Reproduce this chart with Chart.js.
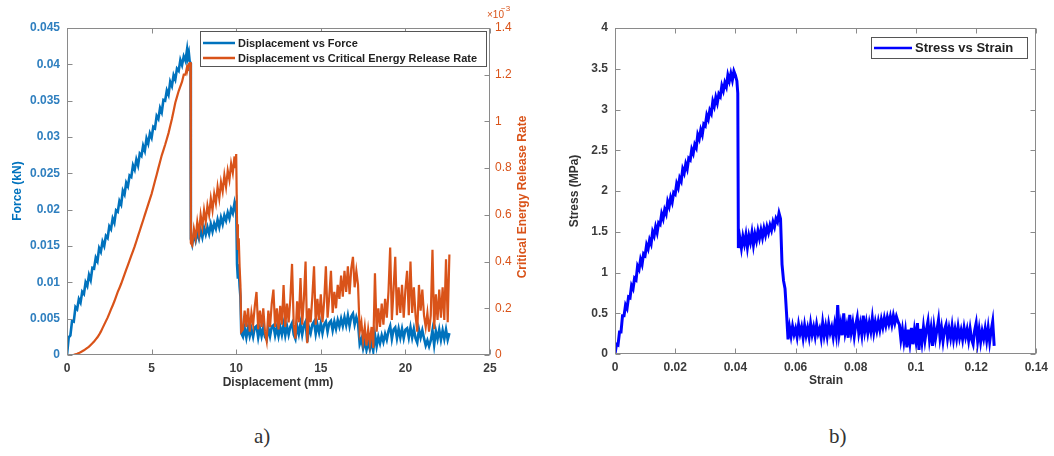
<!DOCTYPE html>
<html>
<head>
<meta charset="utf-8">
<script src="https://cdn.jsdelivr.net/npm/chart.js@4.4.1/dist/chart.umd.min.js"></script>
<style>
  html, body { margin: 0; padding: 0; background: #fff; }
  body { width: 1054px; height: 456px; position: relative; overflow: hidden; }
  .wrap { position: absolute; top: 0; height: 405px; }
  #wrapA { left: 0; width: 540px; }
  #wrapB { left: 540px; width: 514px; }
  .cap { position: absolute; font-family: "Liberation Serif", "DejaVu Serif", serif; font-size: 21px; color: #333; }
</style>
</head>
<body>
<div class="wrap" id="wrapA"><canvas id="chartA"></canvas></div>
<div class="wrap" id="wrapB"><canvas id="chartB"></canvas></div>
<div class="cap" style="left:254px; top:424px;">a)</div>
<div class="cap" style="left:829px; top:424px;">b)</div>
<script>
// ---- chart a) displacement (mm), force (kN), critical energy release rate (x10^-3)
const disp = [
  // loading up to first peak
  0, 0.1, 0.2, 0.3, 0.4, 0.5, 0.6, 0.7, 0.8, 0.9,
  1.0, 1.1, 1.2, 1.3, 1.4, 1.5, 1.6, 1.7, 1.8, 1.9,
  2.0, 2.1, 2.2, 2.3, 2.4, 2.5, 2.6, 2.7, 2.8, 2.9,
  3.0, 3.1, 3.2, 3.3, 3.4, 3.5, 3.6, 3.7, 3.8, 3.9,
  4.0, 4.1, 4.2, 4.3, 4.4, 4.5, 4.6, 4.7, 4.8, 4.9,
  5.0, 5.1, 5.2, 5.3, 5.4, 5.5, 5.6, 5.7, 5.8, 5.9,
  6.0, 6.1, 6.2, 6.3, 6.4, 6.5, 6.6, 6.7, 6.8, 6.9,
  7.0, 7.1, 7.15, 7.2, 7.25, 7.3,
  // second branch
  7.32, 7.4, 7.5, 7.6, 7.7, 7.8, 7.9, 8.0, 8.1, 8.2,
  8.3, 8.4, 8.5, 8.6, 8.7, 8.8, 8.9, 9.0, 9.1, 9.2,
  9.3, 9.4, 9.5, 9.6, 9.7, 9.8, 9.9, 9.95, 10.0,
  // drop
  10.05, 10.1, 10.15, 10.2, 10.25, 10.3,
  // residual
  10.4, 10.5, 10.6, 10.7, 10.8, 10.9, 11.0, 11.1, 11.2, 11.3,
  11.4, 11.5, 11.6, 11.7, 11.8, 11.9, 12.0, 12.1, 12.2, 12.3,
  12.4, 12.5, 12.6, 12.7, 12.8, 12.9, 13.0, 13.1, 13.2, 13.3,
  13.4, 13.5, 13.6, 13.7, 13.8, 13.9, 14.0, 14.1, 14.2, 14.3,
  14.4, 14.5, 14.6, 14.7, 14.8, 14.9, 15.0, 15.1, 15.2, 15.3,
  15.4, 15.5, 15.6, 15.7, 15.8, 15.9, 16.0, 16.1, 16.2, 16.3,
  16.4, 16.5, 16.6, 16.7, 16.8, 16.9, 17.0, 17.1, 17.2, 17.3,
  17.4, 17.5, 17.6, 17.7, 17.8, 17.9, 18.0, 18.1, 18.2, 18.3,
  18.4, 18.5, 18.6, 18.7, 18.8, 18.9, 19.0, 19.1, 19.2, 19.3,
  19.4, 19.5, 19.6, 19.7, 19.8, 19.9, 20.0, 20.1, 20.2, 20.3,
  20.4, 20.5, 20.6, 20.7, 20.8, 20.9, 21.0, 21.1, 21.2, 21.3,
  21.4, 21.5, 21.6, 21.7, 21.8, 21.9, 22.0, 22.1, 22.2, 22.3,
  22.4, 22.5, 22.6
];
const force = [
  0, 0.0024, 0.0027, 0.0047, 0.0046, 0.0066, 0.0063, 0.0077, 0.0072, 0.0087,
  0.0084, 0.01, 0.0095, 0.011, 0.0103, 0.012, 0.0119, 0.0134, 0.0129, 0.0147,
  0.0142, 0.0156, 0.015, 0.0164, 0.0161, 0.0177, 0.0173, 0.0188, 0.0182, 0.0199,
  0.0197, 0.0212, 0.0207, 0.0226, 0.0221, 0.0237, 0.0232, 0.0247, 0.0245, 0.0261,
  0.0255, 0.0269, 0.0261, 0.0277, 0.0274, 0.0288, 0.0281, 0.0298, 0.0291, 0.0305,
  0.0299, 0.0314, 0.0312, 0.0329, 0.0325, 0.034, 0.0334, 0.0351, 0.035, 0.0364,
  0.0358, 0.0376, 0.037, 0.0385, 0.0379, 0.0394, 0.0391, 0.0406, 0.0399, 0.0411,
  0.0405, 0.0421, 0.0411, 0.0416, 0.0404, 0.0402,
  0.016, 0.0152, 0.0166, 0.0157, 0.0169, 0.016, 0.0172, 0.0162, 0.0175, 0.0166,
  0.0176, 0.0167, 0.018, 0.017, 0.0181, 0.0174, 0.0186, 0.0176, 0.0189, 0.018,
  0.0192, 0.0185, 0.0196, 0.0188, 0.0201, 0.0195, 0.0209, 0.0202, 0.0207,
  0.0125, 0.0105, 0.012, 0.0095, 0.008, 0.003,
  0.0025, 0.0037, 0.0024, 0.0038, 0.0026, 0.0036, 0.0025, 0.0038, 0.004, 0.0024,
  0.0037, 0.0026, 0.0038, 0.0025, 0.0021, 0.0037, 0.0026, 0.0039, 0.0041, 0.0027,
  0.0038, 0.0026, 0.0039, 0.0028, 0.0042, 0.0027, 0.004, 0.0028, 0.0039, 0.0044,
  0.0028, 0.0022, 0.004, 0.0029, 0.0043, 0.0028, 0.0041, 0.0046, 0.0018, 0.0038,
  0.003, 0.0042, 0.0046, 0.0029, 0.0042, 0.0031, 0.0044, 0.003, 0.0042, 0.0046,
  0.0032, 0.0044, 0.0047, 0.0034, 0.0046, 0.0036, 0.0048, 0.0039, 0.005, 0.004,
  0.0052, 0.0041, 0.0054, 0.004, 0.0053, 0.0057, 0.0042, 0.0052, 0.0044, 0.0015,
  0.0022, 0.0009, 0.0019, 0.0007, 0.0018, 0.0008, 0.0019, 0.0006, 0.0028, 0.0012,
  0.0025, 0.0016, 0.0027, 0.0018, 0.0029, 0.0021, 0.0033, 0.004, 0.0022, 0.0035,
  0.0038, 0.0023, 0.0036, 0.0024, 0.0036, 0.0023, 0.0035, 0.0037, 0.0024, 0.0038,
  0.0024, 0.0036, 0.0023, 0.0017, 0.0035, 0.0024, 0.0034, 0.0023, 0.0013, 0.002,
  0.0012, 0.002, 0.0034, 0.0014, 0.0033, 0.0022, 0.0035, 0.0021, 0.0034, 0.0022,
  0.0035, 0.0021, 0.003
];
const gRate = [
  0, 0, 0, 0, 0.001, 0.003, 0.005, 0.008, 0.012, 0.016,
  0.02, 0.025, 0.03, 0.036, 0.043, 0.05, 0.058, 0.067, 0.076, 0.087,
  0.1, 0.115, 0.13, 0.145, 0.16, 0.177, 0.195, 0.212, 0.23, 0.25,
  0.27, 0.287, 0.305, 0.325, 0.345, 0.365, 0.385, 0.405, 0.425, 0.445,
  0.465, 0.487, 0.51, 0.532, 0.555, 0.577, 0.6, 0.622, 0.645, 0.667,
  0.69, 0.717, 0.745, 0.772, 0.8, 0.827, 0.855, 0.877, 0.9, 0.925,
  0.95, 0.98, 1.01, 1.045, 1.08, 1.105, 1.13, 1.15, 1.17, 1.2,
  1.2, 1.235, 1.23, 1.245, 1.25, 1.25,
  0.48, 0.47, 0.54, 0.5, 0.57, 0.52, 0.6, 0.55, 0.62, 0.57,
  0.64, 0.6, 0.67, 0.62, 0.69, 0.65, 0.72, 0.67, 0.74, 0.7,
  0.77, 0.72, 0.79, 0.75, 0.82, 0.78, 0.85, 0.8, 0.86,
  0.56, 0.45, 0.5, 0.38, 0.3, 0.1,
  0.11, 0.19, 0.12, 0.2, 0.1, 0.18, 0.13, 0.21, 0.27, 0.11,
  0.19, 0.12, 0.2, 0.1, 0.06, 0.19, 0.12, 0.22, 0.28, 0.12,
  0.2, 0.11, 0.21, 0.13, 0.3, 0.12, 0.22, 0.14, 0.24, 0.39,
  0.13, 0.07, 0.23, 0.14, 0.33, 0.13, 0.24, 0.4, 0.05, 0.2,
  0.14, 0.25, 0.38, 0.13, 0.24, 0.15, 0.26, 0.14, 0.23, 0.38,
  0.16, 0.25, 0.36, 0.18, 0.27, 0.2, 0.3, 0.24, 0.34, 0.25,
  0.36, 0.27, 0.38, 0.26, 0.37, 0.42, 0.29, 0.36, 0.3, 0.1,
  0.14, 0.06, 0.12, 0.04, 0.11, 0.05, 0.12, 0.03, 0.35, 0.1,
  0.2, 0.12, 0.22, 0.13, 0.24, 0.16, 0.27, 0.46, 0.15, 0.28,
  0.42, 0.17, 0.29, 0.18, 0.3, 0.16, 0.28, 0.36, 0.17, 0.4,
  0.18, 0.29, 0.17, 0.1, 0.3, 0.19, 0.28, 0.17, 0.12, 0.18,
  0.1, 0.17, 0.45, 0.11, 0.26, 0.15, 0.28, 0.16, 0.29, 0.15,
  0.41, 0.14, 0.43
];
const dispTicks = [0, 5, 10, 15, 20, 25];
const forceTicks = [0, 0.005, 0.01, 0.015, 0.02, 0.025, 0.03, 0.035, 0.04, 0.045];
const gRateTicks = [0, 0.2, 0.4, 0.6, 0.8, 1, 1.2, 1.4];

// ---- chart b) stress (MPa) vs strain
const strain = [
  0, 0.0005, 0.001, 0.0015, 0.002, 0.0025, 0.003, 0.0035, 0.004, 0.0045,
  0.005, 0.0055, 0.006, 0.0065, 0.007, 0.0075, 0.008, 0.0085, 0.009, 0.0095,
  0.01, 0.0105, 0.011, 0.0115, 0.012, 0.0125, 0.013, 0.0135, 0.014, 0.0145,
  0.015, 0.0155, 0.016, 0.0165, 0.017, 0.0175, 0.018, 0.0185, 0.019, 0.0195,
  0.02, 0.0205, 0.021, 0.0215, 0.022, 0.0225, 0.023, 0.0235, 0.024, 0.0245,
  0.025, 0.0255, 0.026, 0.0265, 0.027, 0.0275, 0.028, 0.0285, 0.029, 0.0295,
  0.03, 0.0305, 0.031, 0.0315, 0.032, 0.0325, 0.033, 0.0335, 0.034, 0.0345,
  0.035, 0.0355, 0.036, 0.0365, 0.037, 0.0375, 0.038, 0.0385, 0.039,
  0.0395, 0.04, 0.0405, 0.0408, 0.041,
  0.0415, 0.042, 0.0425, 0.043, 0.0435, 0.044, 0.0445, 0.045, 0.0455, 0.046,
  0.0465, 0.047, 0.0475, 0.048, 0.0485, 0.049, 0.0495, 0.05, 0.0505, 0.051,
  0.0515, 0.052, 0.0525, 0.053, 0.0535, 0.054, 0.0545, 0.055,
  0.0555, 0.056, 0.0565, 0.057, 0.0575,
  0.058, 0.0585, 0.059, 0.0595, 0.06, 0.0605, 0.061, 0.0615, 0.062, 0.0625,
  0.063, 0.0635, 0.064, 0.0645, 0.065, 0.0655, 0.066, 0.0665, 0.067, 0.0675,
  0.068, 0.0685, 0.069, 0.0695, 0.07, 0.0705, 0.071, 0.0715, 0.072, 0.0725,
  0.073, 0.0735, 0.074, 0.0745, 0.075, 0.0755, 0.076, 0.0765, 0.077, 0.0775,
  0.078, 0.0785, 0.079, 0.0795, 0.08, 0.0805, 0.081, 0.0815, 0.082, 0.0825,
  0.083, 0.0835, 0.084, 0.0845, 0.085, 0.0855, 0.086, 0.0865, 0.087, 0.0875,
  0.088, 0.0885, 0.089, 0.0895, 0.09, 0.0905, 0.091, 0.0915, 0.092, 0.0925,
  0.093, 0.0935, 0.094, 0.0945, 0.095, 0.0955, 0.096, 0.0965, 0.097, 0.0975,
  0.098, 0.0985, 0.099, 0.0995, 0.1, 0.1005, 0.101, 0.1015, 0.102, 0.1025,
  0.103, 0.1035, 0.104, 0.1045, 0.105, 0.1055, 0.106, 0.1065, 0.107, 0.1075,
  0.108, 0.1085, 0.109, 0.1095, 0.11, 0.1105, 0.111, 0.1115, 0.112, 0.1125,
  0.113, 0.1135, 0.114, 0.1145, 0.115, 0.1155, 0.116, 0.1165, 0.117, 0.1175,
  0.118, 0.1185, 0.119, 0.1195, 0.12, 0.1205, 0.121, 0.1215, 0.122, 0.1225,
  0.123, 0.1235, 0.124, 0.1245, 0.125, 0.1255, 0.126
];
const stress = [
  0, 0.12, 0.11, 0.27, 0.27, 0.47, 0.47, 0.6, 0.56, 0.7,
  0.69, 0.84, 0.8, 0.93, 0.91, 1.08, 1.04, 1.16, 1.1, 1.23,
  1.21, 1.34, 1.29, 1.4, 1.35, 1.5, 1.45, 1.56, 1.49, 1.61,
  1.59, 1.72, 1.66, 1.77, 1.72, 1.87, 1.81, 1.92, 1.86, 1.98,
  1.96, 2.09, 2.04, 2.16, 2.12, 2.27, 2.22, 2.33, 2.27, 2.4,
  2.38, 2.51, 2.46, 2.57, 2.53, 2.69, 2.64, 2.75, 2.69, 2.82,
  2.8, 2.93, 2.88, 2.99, 2.95, 3.1, 3.04, 3.15, 3.08, 3.19,
  3.16, 3.29, 3.23, 3.33, 3.28, 3.42, 3.35, 3.44, 3.36,
  3.47, 3.42, 3.35, 3.2, 1.3,
  1.42, 1.3, 1.44, 1.35, 1.46, 1.31, 1.45, 1.37, 1.49, 1.34,
  1.47, 1.39, 1.51, 1.42, 1.52, 1.43, 1.54, 1.46, 1.56, 1.49,
  1.58, 1.52, 1.62, 1.56, 1.66, 1.62, 1.73, 1.66,
  1.1, 0.9, 0.8, 0.5, 0.18,
  0.33, 0.22, 0.34, 0.24, 0.31, 0.21, 0.36, 0.25, 0.33, 0.2,
  0.35, 0.23, 0.32, 0.21, 0.37, 0.24, 0.33, 0.22, 0.36, 0.25,
  0.31, 0.2, 0.38, 0.23, 0.34, 0.22, 0.37, 0.26, 0.33, 0.21,
  0.36, 0.24, 0.6, 0.25, 0.37, 0.23, 0.5, 0.26, 0.35, 0.2,
  0.48, 0.27, 0.38, 0.22, 0.36, 0.45, 0.26, 0.37, 0.24, 0.47,
  0.28, 0.39, 0.26, 0.38, 0.28, 0.44, 0.27, 0.39, 0.29, 0.4,
  0.3, 0.42, 0.33, 0.44, 0.35, 0.45, 0.37, 0.46, 0.36, 0.47,
  0.38, 0.46, 0.4, 0.36, 0.18, 0.3, 0.15, 0.28, 0.08, 0.3,
  0.14, 0.32, 0.12, 0.29, 0.16, 0.38, 0.05, 0.31, 0.15, 0.33,
  0.17, 0.3, 0.4, 0.18, 0.31, 0.1, 0.33, 0.19, 0.3, 0.42,
  0.2, 0.32, 0.16, 0.3, 0.36, 0.19, 0.31, 0.2, 0.34, 0.18,
  0.3, 0.19, 0.33, 0.2, 0.29, 0.18, 0.32, 0.21, 0.3, 0.17,
  0.31, 0.18, 0.12, 0.29, 0.38, 0.16, 0.3, 0.15, 0.28, 0.19,
  0.31, 0.17, 0.32, 0.15, 0.29, 0.4, 0.1
];
const strainTicks = [0, 0.02, 0.04, 0.06, 0.08, 0.1, 0.12, 0.14];
const stressTicks = [0, 0.5, 1, 1.5, 2, 2.5, 3, 3.5, 4];

const BLUE = '#0072BD';
const ORANGE = '#D95319';
const FAMILY = '"Liberation Sans", Arial, sans-serif';
const tickFont = { family: FAMILY, size: 12, weight: 'bold' };
const boldFont = 'bold 12px ' + FAMILY;

Chart.defaults.font.family = FAMILY;

function pts(xs, ys) {
  return xs.map((x, i) => ({ x: x, y: ys[i] }));
}

function fixedTicks(values) {
  return scale => { scale.ticks = values.map(v => ({ value: v })); };
}

// MATLAB style box: frame, inward tick marks, axis titles and legend
const matlabFrame = {
  id: 'matlabFrame',
  afterDraw(chart, args, o) {
    const ctx = chart.ctx;
    const a = chart.chartArea;
    const L = Math.round(a.left) + 0.5, R = Math.round(a.right) - 0.5;
    const T = Math.round(a.top) + 0.5, B = Math.round(a.bottom) - 0.5;
    ctx.save();
    ctx.lineWidth = 1;
    ctx.strokeStyle = '#8a8a8a';

    o.marks.forEach(m => {
      const s = chart.scales[m.scale];
      ctx.beginPath();
      s.ticks.forEach(t => {
        const p = Math.round(s.getPixelForValue(t.value)) + 0.5;
        m.sides.forEach(side => {
          if (side === 'bottom') { ctx.moveTo(p, B); ctx.lineTo(p, B - 5); }
          if (side === 'top') { ctx.moveTo(p, T); ctx.lineTo(p, T + 5); }
          if (side === 'left') { ctx.moveTo(L, p); ctx.lineTo(L + 5, p); }
          if (side === 'right') { ctx.moveTo(R, p); ctx.lineTo(R - 5, p); }
        });
      });
      ctx.stroke();
    });
    ctx.strokeRect(L, T, R - L, B - T);

    o.texts.forEach(t => {
      ctx.save();
      ctx.translate(t.x, t.y);
      if (t.rot) ctx.rotate(t.rot);
      ctx.fillStyle = t.color;
      ctx.font = t.font;
      ctx.textAlign = t.align || 'center';
      ctx.textBaseline = 'middle';
      ctx.fillText(t.text, 0, 0);
      ctx.restore();
    });

    const lg = o.legend;
    ctx.fillStyle = '#fff';
    ctx.fillRect(lg.x, lg.y, lg.w, lg.h);
    ctx.strokeStyle = '#555';
    ctx.strokeRect(lg.x + 0.5, lg.y + 0.5, lg.w, lg.h);
    ctx.font = lg.font;
    ctx.textAlign = 'left';
    ctx.textBaseline = 'middle';
    chart.data.datasets.forEach((ds, i) => {
      const y = lg.y + lg.first + i * lg.rowH;
      ctx.strokeStyle = ds.borderColor;
      ctx.lineWidth = 2.5;
      ctx.beginPath();
      ctx.moveTo(lg.x + 3, y);
      ctx.lineTo(lg.x + 3 + lg.sample, y);
      ctx.stroke();
      ctx.fillStyle = '#222';
      ctx.fillText(ds.label, lg.x + lg.sample + 6, y + 0.5);
    });
    ctx.restore();
  }
};

const noGrid = { display: false, drawTicks: false };

new Chart(document.getElementById('chartA'), {
  type: 'scatter',
  data: {
    datasets: [
      {
        label: 'Displacement vs Force',
        data: pts(disp, force),
        yAxisID: 'y',
        showLine: true,
        borderColor: BLUE,
        borderWidth: 2.6,
        pointRadius: 0,
        order: 2
      },
      {
        label: 'Displacement vs Critical Energy Release Rate',
        data: pts(disp, gRate),
        yAxisID: 'y2',
        showLine: true,
        borderColor: ORANGE,
        borderWidth: 2.2,
        pointRadius: 0,
        order: 1
      }
    ]
  },
  options: {
    animation: false,
    responsive: true,
    maintainAspectRatio: false,
    devicePixelRatio: 1,
    events: [],
    layout: { padding: { top: 28, left: 0, right: 0, bottom: 0 } },
    plugins: {
      legend: { display: false },
      tooltip: { enabled: false },
      matlabFrame: {
        marks: [
          { scale: 'x', sides: ['bottom', 'top'] },
          { scale: 'y', sides: ['left'] },
          { scale: 'y2', sides: ['right'] }
        ],
        texts: [
          { text: 'Displacement (mm)', x: 278, y: 383, color: '#333', font: boldFont },
          { text: 'Force (kN)', x: 18, y: 191, rot: -Math.PI / 2, color: BLUE, font: boldFont },
          { text: 'Critical Energy Release Rate', x: 523, y: 197, rot: -Math.PI / 2, color: ORANGE, font: boldFont },
          { text: '\u00d710', x: 487, y: 15, align: 'left', color: ORANGE, font: '10px ' + FAMILY },
          { text: '\u22123', x: 501, y: 9, align: 'left', color: ORANGE, font: '8px ' + FAMILY }
        ],
        legend: { x: 200, y: 31, w: 286, h: 35, first: 12, rowH: 15, sample: 32, font: 'bold 11px ' + FAMILY }
      }
    },
    scales: {
      x: {
        type: 'linear',
        position: 'bottom',
        min: 0,
        max: 25,
        afterFit: s => { s.height = 50; },
        afterBuildTicks: fixedTicks(dispTicks),
        grid: noGrid,
        border: { display: false },
        ticks: { color: '#3c3c3c', font: tickFont, padding: 6, maxRotation: 0, autoSkip: false, callback: v => String(v) }
      },
      y: {
        type: 'linear',
        position: 'left',
        min: 0,
        max: 0.045,
        afterFit: s => { s.width = 67; },
        afterBuildTicks: fixedTicks(forceTicks),
        grid: noGrid,
        border: { display: false },
        ticks: { color: '#2f7fbf', font: tickFont, padding: 7, autoSkip: false, callback: v => String(v) }
      },
      y2: {
        type: 'linear',
        position: 'right',
        min: 0,
        max: 1.4,
        afterFit: s => { s.width = 50; },
        afterBuildTicks: fixedTicks(gRateTicks),
        grid: noGrid,
        border: { display: false },
        ticks: { color: ORANGE, font: { family: FAMILY, size: 12 }, padding: 5, autoSkip: false, callback: v => String(v) }
      }
    }
  },
  plugins: [matlabFrame]
});

new Chart(document.getElementById('chartB'), {
  type: 'scatter',
  data: {
    datasets: [
      {
        label: 'Stress vs Strain',
        data: pts(strain, stress),
        showLine: true,
        borderColor: '#0000FF',
        borderWidth: 3,
        pointRadius: 0
      }
    ]
  },
  options: {
    animation: false,
    responsive: true,
    maintainAspectRatio: false,
    devicePixelRatio: 1,
    events: [],
    layout: { padding: { top: 28, left: 0, right: 17, bottom: 0 } },
    plugins: {
      legend: { display: false },
      tooltip: { enabled: false },
      matlabFrame: {
        marks: [
          { scale: 'x', sides: ['bottom', 'top'] },
          { scale: 'y', sides: ['left', 'right'] }
        ],
        texts: [
          { text: 'Strain', x: 286, y: 381, color: '#333', font: boldFont },
          { text: 'Stress (MPa)', x: 35, y: 191, rot: -Math.PI / 2, color: '#333', font: boldFont }
        ],
        legend: { x: 331, y: 37, w: 156, h: 21, first: 11, rowH: 14, sample: 38, font: 'bold 13px ' + FAMILY }
      }
    },
    scales: {
      x: {
        type: 'linear',
        position: 'bottom',
        min: 0,
        max: 0.14,
        afterFit: s => { s.height = 51; },
        afterBuildTicks: fixedTicks(strainTicks),
        grid: noGrid,
        border: { display: false },
        ticks: { color: '#3c3c3c', font: tickFont, padding: 6, maxRotation: 0, autoSkip: false, callback: v => String(v) }
      },
      y: {
        type: 'linear',
        position: 'left',
        min: 0,
        max: 4,
        afterFit: s => { s.width = 75; },
        afterBuildTicks: fixedTicks(stressTicks),
        grid: noGrid,
        border: { display: false },
        ticks: { color: '#3c3c3c', font: tickFont, padding: 7, autoSkip: false, callback: v => String(v) }
      }
    }
  },
  plugins: [matlabFrame]
});
</script>
</body>
</html>
